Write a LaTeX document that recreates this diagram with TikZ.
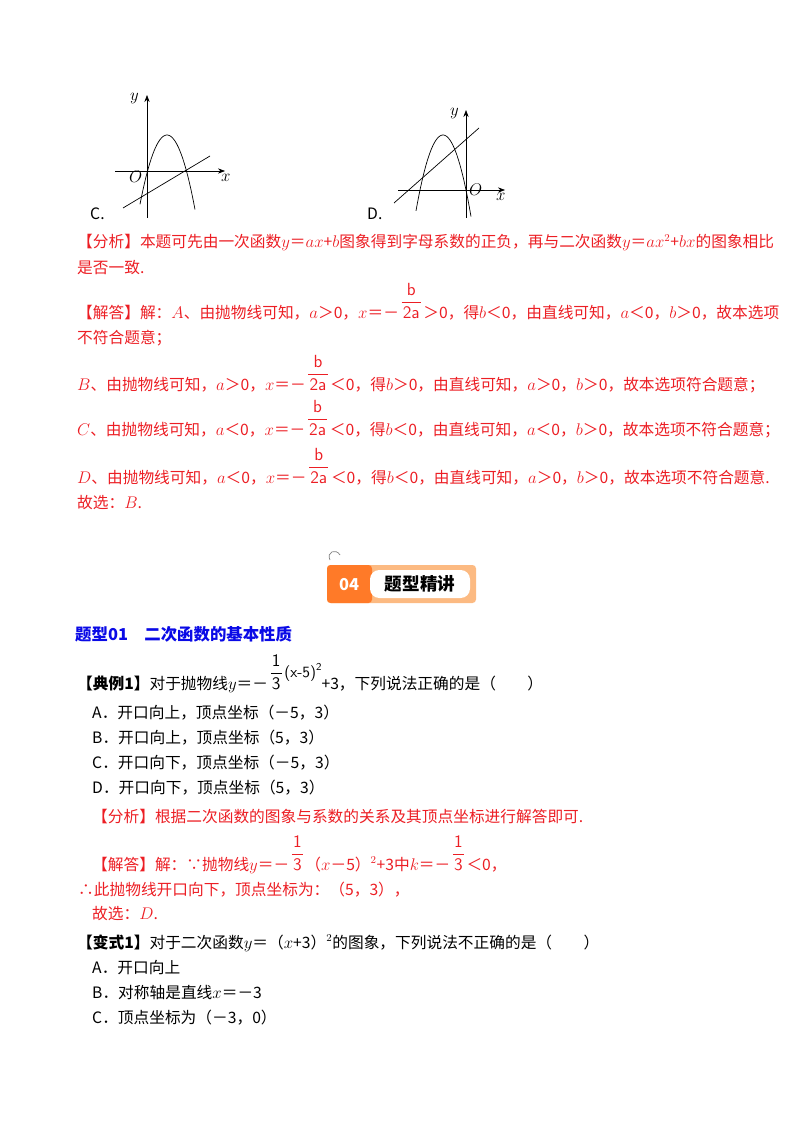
\documentclass[tikz,border=0pt]{standalone}
\usepackage{fontspec}
\setmainfont{Noto Sans CJK SC}
\usetikzlibrary{arrows.meta}
\definecolor{ansred}{RGB}{236,30,36}
\definecolor{headblue}{RGB}{10,10,230}
\definecolor{badgeorange}{RGB}{255,122,40}
\definecolor{badgelight}{RGB}{252,186,130}
\newcommand{\fr}[2]{\,{\sffamily\fontsize{15}{16}\selectfont\renewcommand{\arraystretch}{1.15}\setlength{\tabcolsep}{1pt}\begin{tabular}[b]{c}#1\\\hline #2\end{tabular}}\,}
\newcommand{\up}[1]{\raisebox{10pt}{\sffamily #1}}
\tikzset{
  txt/.style={anchor=base west, inner sep=0pt, font=\fontsize{13.4}{15}\selectfont},
  ans/.style={txt, text=ansred},
  axis/.style={-{Stealth[length=6pt]}, line width=.6pt},
  curve/.style={line width=.6pt}
}
\begin{document}
\begin{tikzpicture}[x=0.03cm, y=-0.03cm]
\useasboundingbox (0,0) rectangle (800,1132);
% graph C
\draw[axis] (115,171) -- (225,171);
\draw[axis] (147,218) -- (147,95);
\draw[curve] plot[domain=140:195, samples=40] (\x,{135+0.095*(\x-167)^2});
\draw[curve] (123,208) -- (210,156);
\node[txt] at (130,101) {$y$};
\node[txt] at (129,183) {$O$};
\node[txt] at (221,182) {$x$};
\node[txt] at (90,220) {C.};
% graph D
\draw[axis] (398,190) -- (505,190);
\draw[axis] (466,218) -- (466,110);
\draw[curve] plot[domain=416:471, samples=40] (\x,{135+0.104*(\x-443)^2});
\draw[curve] (394,203) -- (479,128);
\node[txt] at (450,116) {$y$};
\node[txt] at (469,196) {$O$};
\node[txt] at (496,201) {$x$};
\node[txt] at (367,220) {D.};
% analysis
\node[ans] at (77,248) {【分析】本题可先由一次函数$y$＝$ax$+$b$图象得到字母系数的正负，再与二次函数$y$＝$ax^2$+$bx$的图象相比};
\node[ans] at (77,273) {是否一致.};
\node[ans] at (77,318) {【解答】解：$A$、由抛物线可知，$a$＞0，$x$＝－\fr{b}{2a}＞0，得$b$＜0，由直线可知，$a$＜0，$b$＞0，故本选项};
\node[ans] at (77,343) {不符合题意；};
\node[ans] at (77,390) {$B$、由抛物线可知，$a$＞0，$x$＝－\fr{b}{2a}＜0，得$b$＞0，由直线可知，$a$＞0，$b$＞0，故本选项符合题意；};
\node[ans] at (77,435) {$C$、由抛物线可知，$a$＜0，$x$＝－\fr{b}{2a}＜0，得$b$＜0，由直线可知，$a$＜0，$b$＞0，故本选项不符合题意；};
\node[ans] at (77,483) {$D$、由抛物线可知，$a$＜0，$x$＝－\fr{b}{2a}＜0，得$b$＜0，由直线可知，$a$＞0，$b$＞0，故本选项不符合题意.};
\node[ans] at (77,508) {故选：$B$.};
% badge
\draw[line width=.6pt, gray] (330,560) .. controls (326,552) and (336,548) .. (340,555);
\fill[badgelight, rounded corners=3pt] (327,565) rectangle (476,603);
\fill[badgeorange, rounded corners=3pt] (327,565) rectangle (372,603);
\fill[white, rounded corners=8pt] (370,570) rectangle (470,598);
\node[inner sep=0pt, text=white, font=\bfseries\fontsize{14}{16}\selectfont] at (349,585) {04};
\node[inner sep=0pt, font=\bfseries\fontsize{15}{16}\selectfont] at (420,584) {题型精讲};
% heading
\node[txt, text=headblue, font=\bfseries\fontsize{14}{16}\selectfont] at (75,640) {题型01\quad 二次函数的基本性质};
% example 1
\node[txt] at (77,689) {\textbf{【典例1】}对于抛物线$y$＝－\fr{1}{3}\up{(x-5)}\raisebox{16pt}{\sffamily\small 2}+3，下列说法正确的是（\qquad）};
\node[txt] at (92,718) {A．开口向上，顶点坐标（－5，3）};
\node[txt] at (92,743) {B．开口向上，顶点坐标（5，3）};
\node[txt] at (92,768) {C．开口向下，顶点坐标（－5，3）};
\node[txt] at (92,793) {D．开口向下，顶点坐标（5，3）};
\node[ans] at (92,822) {【分析】根据二次函数的图象与系数的关系及其顶点坐标进行解答即可.};
\node[ans] at (92,870) {【解答】解：∵抛物线$y$＝－\fr{1}{3}（$x$－5）$^2$+3中$k$＝－\fr{1}{3}＜0，};
\node[ans] at (78,895) {∴此抛物线开口向下，顶点坐标为：（5，3），};
\node[ans] at (92,919) {故选：$D$.};
% variant 1
\node[txt] at (77,948) {\textbf{【变式1】}对于二次函数$y$＝（$x$+3）$^2$的图象，下列说法不正确的是（\qquad）};
\node[txt] at (92,973) {A．开口向上};
\node[txt] at (92,998) {B．对称轴是直线$x$＝－3};
\node[txt] at (92,1023) {C．顶点坐标为（－3，0）};
\end{tikzpicture}
\end{document}
